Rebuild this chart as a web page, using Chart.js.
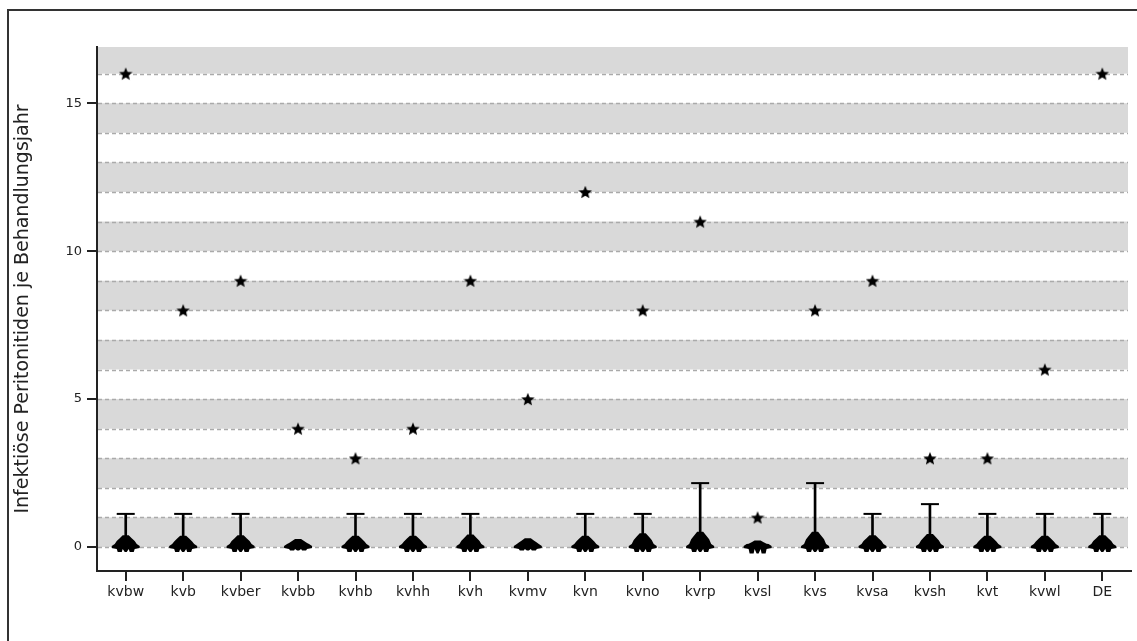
<!DOCTYPE html>
<html>
<head>
<meta charset="utf-8">
<script src="https://cdn.jsdelivr.net/npm/chart.js@4"></script>
<style>
  html, body { margin: 0; padding: 0; background: #fff; overflow: hidden; }
  #frame { position: absolute; left: 7px; top: 9px; width: 1200px; height: 700px; border: 2px solid #333; }
  #wrap { position: absolute; left: 0; top: 0; width: 1137px; height: 641px; }
</style>
</head>
<body>
<div id="frame"></div>
<div id="wrap"><canvas id="boxChart" width="1137" height="641"></canvas></div>
<script>
// Kategorien (KV-Regionen)
const categories = ["kvbw", "kvb", "kvber", "kvbb", "kvhb", "kvhh", "kvh", "kvmv", "kvn", "kvno", "kvrp", "kvsl", "kvs", "kvsa", "kvsh", "kvt", "kvwl", "DE"];
// Maximum (Stern)
const maxValues = [16, 8, 9, 4, 3, 4, 9, 5, 12, 8, 11, 1, 8, 9, 3, 3, 6, 16];
// oberer Whisker (0 = kein Whisker)
const whiskerTop = [1.12, 1.12, 1.12, 0, 1.12, 1.12, 1.12, 0, 1.12, 1.12, 2.16, 0, 2.16, 1.12, 1.45, 1.12, 1.12, 1.12];
// Verteilung nahe 0 (Hügel oben / unten)
const moundTop = [0.4, 0.38, 0.4, 0.27, 0.38, 0.38, 0.42, 0.3, 0.38, 0.47, 0.52, 0.22, 0.52, 0.4, 0.44, 0.38, 0.38, 0.4];
const moundBottom = [-0.17, -0.17, -0.17, -0.12, -0.17, -0.17, -0.17, -0.12, -0.17, -0.17, -0.17, -0.22, -0.17, -0.17, -0.17, -0.17, -0.17, -0.17];
const yTicks = [0, 5, 10, 15];

const fontFamily = "'DejaVu Sans', Tahoma, sans-serif";

// gefüllter Stern als Punktstil
function makeStar(size) {
    const c = document.createElement('canvas');
    c.width = size; c.height = size;
    const g = c.getContext('2d');
    const cx = size / 2, cy = size / 2 + 0.7;
    const R = size / 2, r = R * 0.45;
    g.beginPath();
    for (let i = 0; i < 10; i++) {
        const rad = (i % 2 === 0) ? R : r;
        const a = -Math.PI / 2 + i * Math.PI / 5;
        const px = cx + rad * Math.cos(a), py = cy + rad * Math.sin(a);
        if (i === 0) g.moveTo(px, py); else g.lineTo(px, py);
    }
    g.closePath();
    g.fillStyle = '#000';
    g.fill();
    return c;
}
const starImg = makeStar(14);

// graue Bänder + gestrichelte Linien
const bandsPlugin = {
    id: 'bands',
    beforeDatasetsDraw(chart) {
        const { ctx, chartArea, scales } = chart;
        const y = scales.y;
        ctx.save();
        ctx.beginPath();
        ctx.rect(chartArea.left, chartArea.top, chartArea.right - chartArea.left, chartArea.bottom - chartArea.top);
        ctx.clip();
        ctx.fillStyle = '#d9d9d9';
        for (let k = 0; k <= 16; k += 2) {
            const y1 = y.getPixelForValue(k + 1);
            const y0 = y.getPixelForValue(k);
            ctx.fillRect(chartArea.left + 1, y1, chartArea.right - chartArea.left - 4, y0 - y1);
        }
        ctx.strokeStyle = '#aaaaaa';
        ctx.lineWidth = 1.5;
        ctx.setLineDash([4, 3]);
        for (let k = 0; k <= 16; k++) {
            const py = Math.round(y.getPixelForValue(k)) + 0.5;
            ctx.beginPath();
            ctx.moveTo(chartArea.left + 1, py);
            ctx.lineTo(chartArea.right - 3, py);
            ctx.stroke();
        }
        ctx.restore();
    }
};

// Hügel (Verteilung) an jeder Kategorie
const moundPlugin = {
    id: 'mounds',
    afterDatasetsDraw(chart) {
        const { ctx, scales } = chart;
        const x = scales.x, y = scales.y;
        ctx.save();
        ctx.fillStyle = '#000';
        categories.forEach((cat, i) => {
            const cx = x.getPixelForValue(i);
            const y0 = y.getPixelForValue(0);
            const top = y.getPixelForValue(moundTop[i]);
            const bot = y.getPixelForValue(moundBottom[i]);
            const h = y0 - top;
            ctx.beginPath();
            ctx.moveTo(cx - 14, y0 + 1);
            ctx.lineTo(cx - 14, y0 - 1);
            ctx.lineTo(cx - 11, y0 - 3);
            ctx.lineTo(cx - 9, y0 - h * 0.5);
            ctx.lineTo(cx - 6, y0 - h * 0.75);
            ctx.lineTo(cx - 3, top);
            ctx.lineTo(cx + 3, top);
            ctx.lineTo(cx + 6, y0 - h * 0.75);
            ctx.lineTo(cx + 9, y0 - h * 0.5);
            ctx.lineTo(cx + 11, y0 - 3);
            ctx.lineTo(cx + 14, y0 - 1);
            ctx.lineTo(cx + 14, y0 + 1);
            ctx.lineTo(cx + 9, y0 + 2);
            ctx.lineTo(cx + 8, bot);
            ctx.lineTo(cx + 4, bot);
            ctx.lineTo(cx + 3, y0 + 2);
            ctx.lineTo(cx + 1, bot);
            ctx.lineTo(cx - 1, bot);
            ctx.lineTo(cx - 3, y0 + 2);
            ctx.lineTo(cx - 4, bot);
            ctx.lineTo(cx - 8, bot);
            ctx.lineTo(cx - 9, y0 + 2);
            ctx.closePath();
            ctx.fill();
        });
        ctx.restore();
    }
};

const ctx = document.getElementById('boxChart').getContext('2d');
new Chart(ctx, {
    data: {
        labels: categories,
        datasets: [
            {
                type: 'bar',
                label: 'Whisker',
                data: whiskerTop.map(v => v > 0 ? [0, v] : null),
                backgroundColor: '#000',
                barThickness: 2,
                order: 3
            },
            {
                type: 'line',
                label: 'Cap',
                data: whiskerTop.map(v => v > 0 ? v : null),
                showLine: false,
                pointStyle: 'line',
                pointRadius: 9,
                borderColor: '#000',
                borderWidth: 2,
                order: 2
            },
            {
                type: 'line',
                label: 'Maximum',
                data: maxValues,
                showLine: false,
                pointStyle: starImg,
                order: 1
            }
        ]
    },
    options: {
        responsive: false,
        animation: false,
        layout: { autoPadding: false, padding: { left: 12, top: 47, right: 6, bottom: 0 } },
        plugins: {
            legend: { display: false },
            tooltip: { enabled: false }
        },
        scales: {
            x: {
                type: 'category',
                offset: true,
                grid: { drawOnChartArea: false, drawTicks: true, tickLength: 10, color: '#222', lineWidth: 2, offset: false },
                border: { color: '#222', width: 2 },
                ticks: { color: '#222', font: { family: fontFamily, size: 14 }, padding: 3, maxRotation: 0, autoSkip: false },
                afterFit(scale) { scale.height = 70; }
            },
            y: {
                min: -0.81,
                max: 16.9,
                grid: { drawOnChartArea: false, drawTicks: true, tickLength: 10, color: '#222', lineWidth: 2 },
                border: { color: '#222', width: 2 },
                afterBuildTicks(scale) { scale.ticks = yTicks.map(v => ({ value: v })); },
                ticks: { color: '#222', font: { family: fontFamily, size: 13 }, padding: 5 },
                title: {
                    display: true,
                    text: 'Infektiöse Peritonitiden je Behandlungsjahr',
                    color: '#222',
                    font: { family: fontFamily, size: 19 },
                    padding: { top: 0, bottom: 0 }
                },
                afterFit(scale) { scale.width = 85; }
            }
        }
    },
    plugins: [bandsPlugin, moundPlugin]
});
</script>
</body>
</html>
